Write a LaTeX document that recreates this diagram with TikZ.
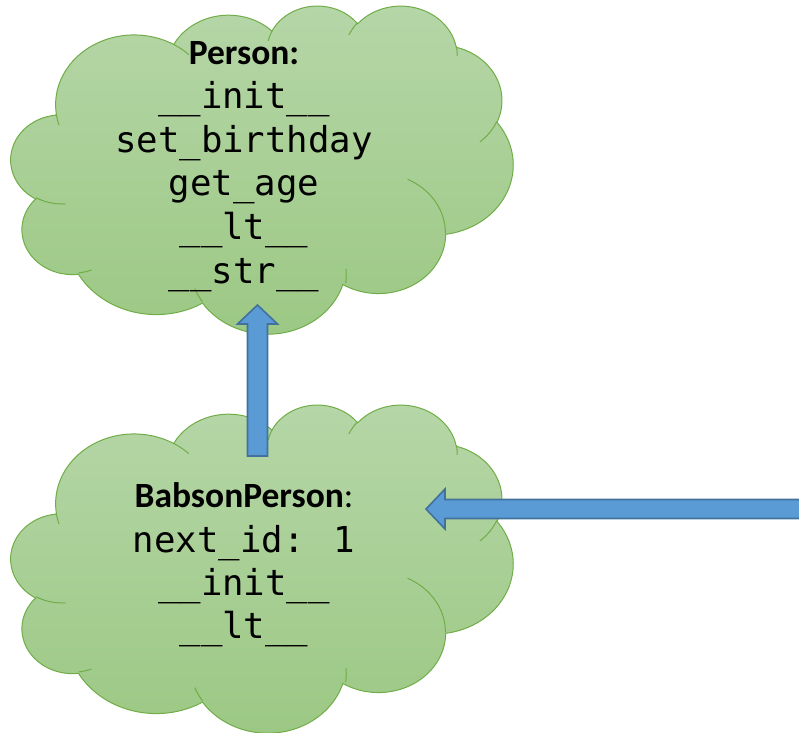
\documentclass[tikz,border=0pt]{standalone}
\usepackage{fontspec}
\newfontfamily\monof{DejaVu Sans Mono}
\newfontfamily\calib{Carlito}
\usetikzlibrary{calc}
\definecolor{cloudtop}{HTML}{B5D6A7}
\definecolor{cloudbot}{HTML}{9CC884}
\definecolor{cloudline}{HTML}{70AD47}
\definecolor{arrowfill}{HTML}{5B9BD5}
\definecolor{arrowline}{HTML}{41719C}
\newcommand\cseg[6]{plot[domain=#5:#6,samples=40,variable=\t]({#1+#3*cos(\t)},{#2+#4*sin(\t)})}
\newcommand\lseg[6]{-- plot[domain=#5:#6,samples=40,variable=\t]({#1+#3*cos(\t)},{#2+#4*sin(\t)})}
\newcommand\mycloud[4]{%
\begin{scope}[shift={(#1,#2)},x=#3pt/432,y=-#4pt/432]
\path[draw=cloudline,line width=1pt,top color=cloudtop,bottom color=cloudbot]
 \cseg{105.914}{131.314}{67.53}{91.90}{172.255}{300.36}
 \lseg{187.149}{86.081}{53.33}{72.67}{-152.04}{-45.44}
 \lseg{263.635}{60.832}{43.65}{59.45}{-153.50}{-37.35}
 \lseg{335.385}{67.411}{48.57}{65.95}{-139.71}{-10.21}
 \lseg{369.177}{125.897}{53.33}{72.73}{-74.77}{23.21}
 \lseg{364.473}{210.744}{67.75}{92.20}{-37.54}{81.86}
 \lseg{316.218}{301.385}{57.85}{78.67}{0.46}{121.98}
 \lseg{220.957}{341.422}{67.52}{92.15}{16.84}{146.22}
 \lseg{125.051}{302.308}{77.20}{105.43}{58.98}{150.20}
 \lseg{52.981}{295.926}{43.60}{59.18}{83.31}{223.11}
 \lseg{43.118}{204.188}{43.45}{59.45}{120.36}{264.11}
 -- cycle;
\begin{scope}[draw=cloudline,line width=1pt]
\draw \cseg{43.556}{202.50}{43.45}{59.45}{85.546}{120.36};
\draw \cseg{53.107}{294.032}{43.60}{59.18}{68.23}{83.31};
\draw \cseg{220.90}{339.664}{67.52}{92.15}{146.22}{158.47};
\draw \cseg{220.981}{355.122}{67.52}{92.15}{-4.738}{7.024};
\draw \cseg{315.959}{300.267}{57.85}{78.67}{-64.03}{0.46};
\draw \cseg{368.966}{124.877}{53.33}{72.73}{23.21}{49.65};
\draw \cseg{335.439}{65.95}{48.57}{65.95}{-10.21}{0.821};
\draw \cseg{335.25}{66.037}{48.57}{65.95}{-156.29}{-139.71};
\draw \cseg{264.063}{59.834}{43.65}{59.45}{-167.73}{-153.50};
\draw \cseg{105.87}{131.221}{67.53}{91.90}{-59.64}{-45.72};
\draw \cseg{105.918}{131.328}{67.53}{91.90}{163.20}{172.255};
\end{scope}
\end{scope}}
\tikzset{
 codeline/.style={anchor=base,inner sep=0pt,font=\monof\fontsize{35.7}{42}\selectfont},
 titleline/.style={anchor=base,inner sep=0pt,font=\calib\fontsize{35.5}{42}\selectfont},
 blockarrow/.style={fill=arrowfill,draw=arrowline,line width=1.6pt,line join=miter}
}
\begin{document}
\begin{tikzpicture}[x=1pt,y=-1pt]
\useasboundingbox (0,0) rectangle (799,732);
\mycloud{11}{5}{502}{328}
\mycloud{11}{404}{502}{328}
% top cloud text
\node[titleline] (ptitle) at (244,64) {\bfseries Person:};
\node[codeline] (p1) at (244,108) {\_\_init\_\_};
\node[codeline] (p2) at (244,152) {set\_birthday};
\node[codeline] (p3) at (244,195) {get\_age};
\node[codeline] (p4) at (244,239) {\_\_lt\_\_};
\node[codeline] (p5) at (244,283) {\_\_str\_\_};
% bottom cloud text
\node[titleline] (btitle) at (244,507) {\textbf{BabsonPerson}:};
\node[codeline] (b1) at (244,552) {next\_id: 1};
\node[codeline] (b2) at (244,595) {\_\_init\_\_};
\node[codeline] (b3) at (244,638) {\_\_lt\_\_};
% arrows
\coordinate (upTip) at (257.5,305);
\coordinate (upTail) at (257.5,456);
\coordinate (leftTip) at (426,509);
\coordinate (leftTail) at (806,509);
\draw[blockarrow] (upTip) -- ++(20,19) -- ++(-10,0) -- ($(upTail)+(10,0)$)
  -- ($(upTail)+(-10,0)$) -- ($(upTip)+(-10,19)$) -- ++(-10,0) -- cycle;
\draw[blockarrow] (leftTip) -- ++(19,-20) -- ++(0,10.5) -- ($(leftTail)+(0,-9.5)$)
  -- ($(leftTail)+(0,9.5)$) -- ($(leftTip)+(19,9.5)$) -- ++(0,10.5) -- cycle;
\end{tikzpicture}
\end{document}
